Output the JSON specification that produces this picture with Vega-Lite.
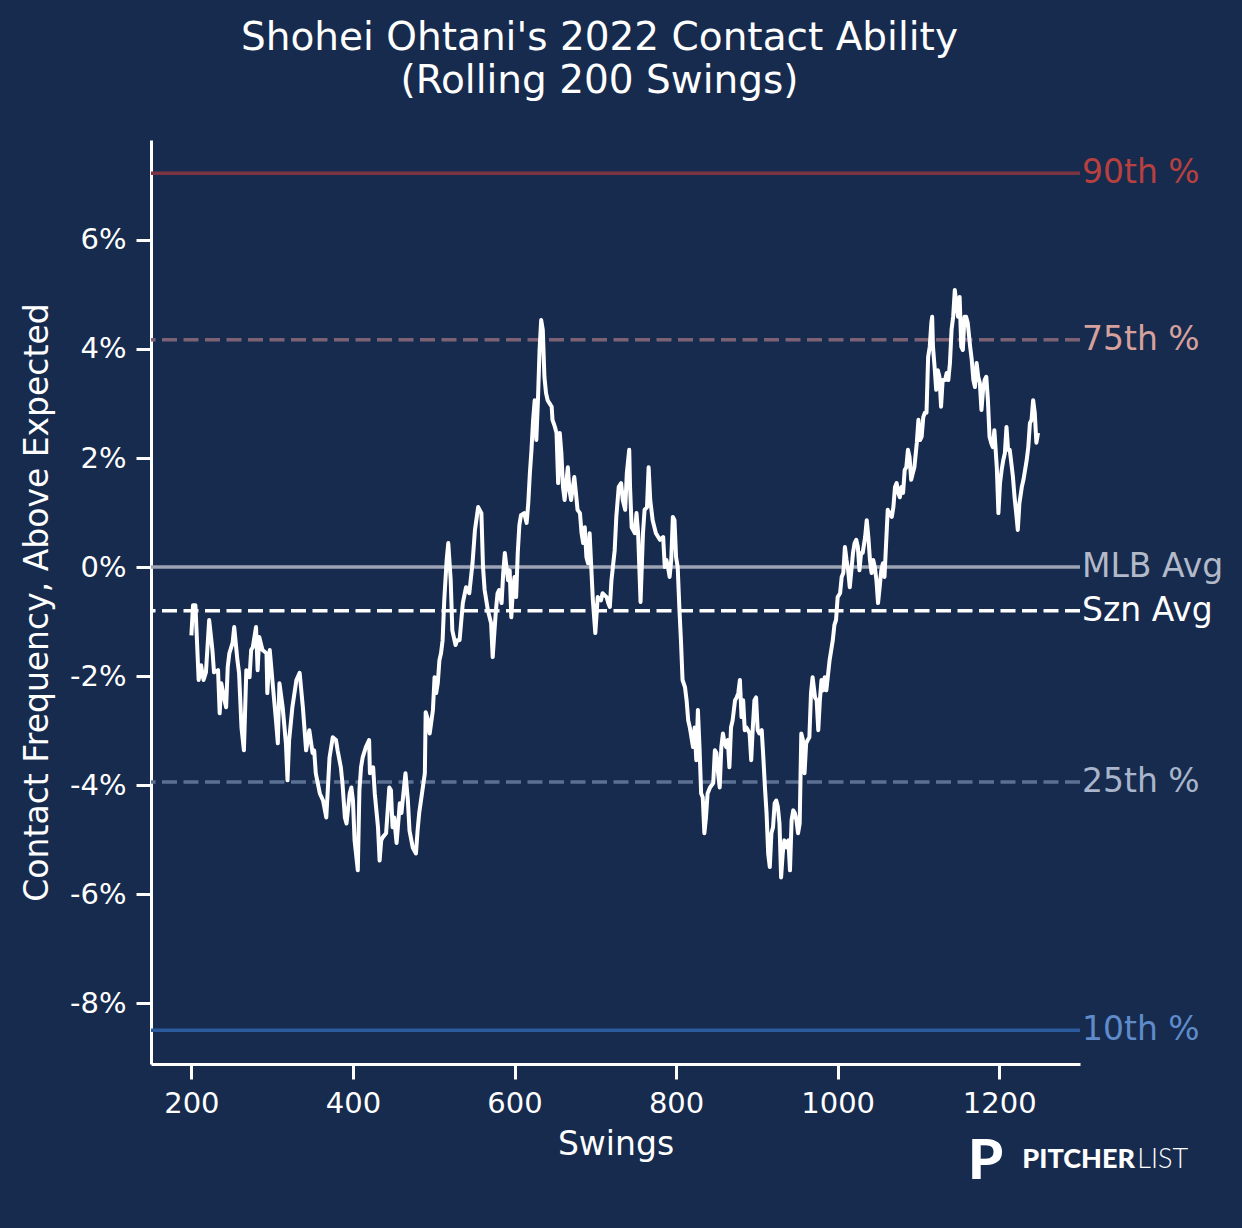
{
  "$schema": "https://vega.github.io/schema/vega-lite/v6.json",
  "width": 929,
  "height": 924,
  "autosize": {"type": "none"},
  "padding": {"left": 151, "top": 140, "right": 162, "bottom": 164},
  "background": "#172b4e",
  "title": {
    "text": ["Shohei Ohtani's 2022 Contact Ability", "(Rolling 200 Swings)"],
    "color": "#ffffff",
    "fontSize": 39,
    "fontWeight": "normal",
    "lineHeight": 43,
    "anchor": "middle",
    "baseline": "bottom",
    "offset": 0,
    "dx": -16
  },
  "datasets": {
    "refs": [
      {"ref": "90th %", "v": 7.22},
      {"ref": "75th %", "v": 4.17},
      {"ref": "MLB Avg", "v": 0},
      {"ref": "Szn Avg", "v": -0.8},
      {"ref": "25th %", "v": -3.94},
      {"ref": "10th %", "v": -8.49}
    ],
    "rolling": [
      {"swing": 200, "val": -1.25}, {"swing": 202, "val": -0.70}, {"swing": 205, "val": -0.70}, {"swing": 209, "val": -2.07},
      {"swing": 212, "val": -1.80}, {"swing": 215, "val": -2.07}, {"swing": 218, "val": -1.93}, {"swing": 222, "val": -0.97},
      {"swing": 226, "val": -1.52}, {"swing": 228, "val": -1.93}, {"swing": 233, "val": -1.89}, {"swing": 235, "val": -2.68},
      {"swing": 237, "val": -2.13}, {"swing": 241, "val": -2.44}, {"swing": 243, "val": -2.57}, {"swing": 245, "val": -1.83},
      {"swing": 247, "val": -1.58}, {"swing": 251, "val": -1.39}, {"swing": 253, "val": -1.10}, {"swing": 257, "val": -1.71},
      {"swing": 259, "val": -1.94}, {"swing": 262, "val": -2.94}, {"swing": 265, "val": -3.36}, {"swing": 268, "val": -1.89},
      {"swing": 272, "val": -2.02}, {"swing": 274, "val": -1.52}, {"swing": 276, "val": -1.47}, {"swing": 280, "val": -1.10},
      {"swing": 282, "val": -1.89}, {"swing": 284, "val": -1.28}, {"swing": 288, "val": -1.52}, {"swing": 293, "val": -1.58},
      {"swing": 294, "val": -2.31}, {"swing": 297, "val": -1.52}, {"swing": 301, "val": -2.20}, {"swing": 305, "val": -2.86},
      {"swing": 307, "val": -3.23}, {"swing": 309, "val": -2.13}, {"swing": 313, "val": -2.57}, {"swing": 317, "val": -3.23},
      {"swing": 319, "val": -3.91}, {"swing": 321, "val": -3.17}, {"swing": 325, "val": -2.57}, {"swing": 330, "val": -2.07},
      {"swing": 334, "val": -1.94}, {"swing": 338, "val": -2.57}, {"swing": 342, "val": -3.36}, {"swing": 346, "val": -2.99},
      {"swing": 350, "val": -3.41}, {"swing": 352, "val": -3.36}, {"swing": 354, "val": -3.78}, {"swing": 359, "val": -4.15},
      {"swing": 363, "val": -4.28}, {"swing": 367, "val": -4.59}, {"swing": 371, "val": -3.49}, {"swing": 375, "val": -3.12},
      {"swing": 379, "val": -3.17}, {"swing": 381, "val": -3.36}, {"swing": 385, "val": -3.67}, {"swing": 387, "val": -3.96},
      {"swing": 390, "val": -4.59}, {"swing": 392, "val": -4.70}, {"swing": 396, "val": -4.15}, {"swing": 398, "val": -4.04},
      {"swing": 400, "val": -4.28}, {"swing": 402, "val": -5.01}, {"swing": 406, "val": -5.56}, {"swing": 408, "val": -4.09},
      {"swing": 410, "val": -3.67}, {"swing": 412, "val": -3.49}, {"swing": 416, "val": -3.30}, {"swing": 420, "val": -3.17},
      {"swing": 421, "val": -3.78}, {"swing": 425, "val": -3.67}, {"swing": 427, "val": -4.15}, {"swing": 431, "val": -4.77},
      {"swing": 433, "val": -5.38}, {"swing": 435, "val": -5.01}, {"swing": 437, "val": -4.95}, {"swing": 441, "val": -4.88},
      {"swing": 445, "val": -4.04}, {"swing": 447, "val": -4.09}, {"swing": 449, "val": -4.77}, {"swing": 451, "val": -4.59},
      {"swing": 454, "val": -5.06}, {"swing": 458, "val": -4.33}, {"swing": 460, "val": -4.51}, {"swing": 462, "val": -4.22},
      {"swing": 465, "val": -3.78}, {"swing": 468, "val": -4.28}, {"swing": 470, "val": -4.83}, {"swing": 474, "val": -5.14},
      {"swing": 478, "val": -5.25}, {"swing": 480, "val": -4.83}, {"swing": 482, "val": -4.51}, {"swing": 486, "val": -4.09},
      {"swing": 489, "val": -3.78}, {"swing": 490, "val": -2.66}, {"swing": 493, "val": -2.81}, {"swing": 495, "val": -3.05},
      {"swing": 499, "val": -2.62}, {"swing": 501, "val": -2.02}, {"swing": 503, "val": -2.31}, {"swing": 505, "val": -2.13},
      {"swing": 507, "val": -1.71}, {"swing": 509, "val": -1.58}, {"swing": 511, "val": -1.34}, {"swing": 513, "val": -0.61},
      {"swing": 516, "val": 0.13}, {"swing": 518, "val": 0.44}, {"swing": 521, "val": -0.24}, {"swing": 523, "val": -1.16},
      {"swing": 527, "val": -1.43}, {"swing": 529, "val": -1.34}, {"swing": 532, "val": -1.34}, {"swing": 536, "val": -0.66},
      {"swing": 540, "val": -0.37}, {"swing": 544, "val": -0.48}, {"swing": 548, "val": 0.07}, {"swing": 551, "val": 0.68},
      {"swing": 555, "val": 1.10}, {"swing": 559, "val": 0.99}, {"swing": 561, "val": 0.00}, {"swing": 563, "val": -0.42},
      {"swing": 567, "val": -0.79}, {"swing": 571, "val": -1.03}, {"swing": 573, "val": -1.65}, {"swing": 575, "val": -1.21},
      {"swing": 577, "val": -0.79}, {"swing": 579, "val": -0.48}, {"swing": 581, "val": -0.42}, {"swing": 584, "val": -0.66},
      {"swing": 586, "val": -0.11}, {"swing": 588, "val": 0.26}, {"swing": 590, "val": 0.00}, {"swing": 592, "val": -0.24},
      {"swing": 594, "val": -0.06}, {"swing": 596, "val": -0.92}, {"swing": 598, "val": -0.42}, {"swing": 600, "val": -0.18},
      {"swing": 602, "val": -0.55}, {"swing": 604, "val": 0.26}, {"swing": 606, "val": 0.77}, {"swing": 608, "val": 0.95},
      {"swing": 612, "val": 0.99}, {"swing": 615, "val": 0.81}, {"swing": 617, "val": 1.17}, {"swing": 619, "val": 1.72},
      {"swing": 621, "val": 2.15}, {"swing": 623, "val": 2.70}, {"swing": 625, "val": 3.06}, {"swing": 627, "val": 2.33},
      {"swing": 629, "val": 3.06}, {"swing": 631, "val": 3.98}, {"swing": 633, "val": 4.53}, {"swing": 635, "val": 4.35},
      {"swing": 637, "val": 3.49}, {"swing": 639, "val": 3.19}, {"swing": 641, "val": 3.06}, {"swing": 643, "val": 3.01},
      {"swing": 646, "val": 2.94}, {"swing": 647, "val": 2.70}, {"swing": 650, "val": 2.57}, {"swing": 652, "val": 2.46},
      {"swing": 654, "val": 1.54}, {"swing": 656, "val": 2.46}, {"swing": 658, "val": 2.09}, {"swing": 660, "val": 1.47},
      {"swing": 662, "val": 1.23}, {"swing": 666, "val": 1.83}, {"swing": 668, "val": 1.41}, {"swing": 670, "val": 1.23},
      {"swing": 674, "val": 1.65}, {"swing": 676, "val": 1.36}, {"swing": 678, "val": 1.05}, {"swing": 681, "val": 0.99},
      {"swing": 683, "val": 0.62}, {"swing": 685, "val": 0.44}, {"swing": 687, "val": 0.73}, {"swing": 689, "val": 0.18},
      {"swing": 691, "val": 0.07}, {"swing": 693, "val": 0.62}, {"swing": 695, "val": 0.00}, {"swing": 697, "val": -0.61},
      {"swing": 700, "val": -1.21}, {"swing": 703, "val": -0.55}, {"swing": 707, "val": -0.61}, {"swing": 709, "val": -0.48},
      {"swing": 714, "val": -0.55}, {"swing": 716, "val": -0.66}, {"swing": 718, "val": -0.73}, {"swing": 720, "val": -0.24},
      {"swing": 724, "val": 0.31}, {"swing": 726, "val": 0.92}, {"swing": 729, "val": 1.47}, {"swing": 732, "val": 1.54},
      {"swing": 734, "val": 1.23}, {"swing": 737, "val": 1.05}, {"swing": 739, "val": 1.72}, {"swing": 742, "val": 2.15},
      {"swing": 743, "val": 1.47}, {"swing": 745, "val": 0.73}, {"swing": 749, "val": 0.62}, {"swing": 751, "val": 0.99},
      {"swing": 753, "val": 0.62}, {"swing": 756, "val": -0.64}, {"swing": 759, "val": 0.62}, {"swing": 761, "val": 1.05},
      {"swing": 764, "val": 1.10}, {"swing": 766, "val": 1.83}, {"swing": 768, "val": 1.23}, {"swing": 771, "val": 0.86},
      {"swing": 775, "val": 0.62}, {"swing": 780, "val": 0.50}, {"swing": 784, "val": 0.55}, {"swing": 786, "val": 0.00},
      {"swing": 788, "val": 0.13}, {"swing": 790, "val": 0.00}, {"swing": 792, "val": -0.18}, {"swing": 794, "val": 0.13},
      {"swing": 796, "val": 0.92}, {"swing": 798, "val": 0.86}, {"swing": 800, "val": 0.18}, {"swing": 802, "val": 0.00},
      {"swing": 804, "val": -0.73}, {"swing": 806, "val": -1.34}, {"swing": 808, "val": -2.07}, {"swing": 811, "val": -2.20},
      {"swing": 813, "val": -2.44}, {"swing": 815, "val": -2.81}, {"swing": 817, "val": -2.94}, {"swing": 821, "val": -3.30},
      {"swing": 823, "val": -2.94}, {"swing": 825, "val": -3.54}, {"swing": 827, "val": -2.62}, {"swing": 829, "val": -3.30},
      {"swing": 831, "val": -4.15}, {"swing": 833, "val": -4.22}, {"swing": 835, "val": -4.88}, {"swing": 837, "val": -4.59},
      {"swing": 839, "val": -4.15}, {"swing": 842, "val": -4.04}, {"swing": 846, "val": -3.96}, {"swing": 848, "val": -3.36},
      {"swing": 850, "val": -3.41}, {"swing": 852, "val": -3.78}, {"swing": 854, "val": -4.04}, {"swing": 856, "val": -3.30},
      {"swing": 858, "val": -3.05}, {"swing": 860, "val": -3.23}, {"swing": 862, "val": -3.30}, {"swing": 864, "val": -3.17},
      {"swing": 866, "val": -3.67}, {"swing": 868, "val": -2.94}, {"swing": 870, "val": -2.81}, {"swing": 873, "val": -2.44},
      {"swing": 875, "val": -2.39}, {"swing": 877, "val": -2.31}, {"swing": 879, "val": -2.07}, {"swing": 881, "val": -2.75},
      {"swing": 883, "val": -2.44}, {"swing": 885, "val": -2.99}, {"swing": 887, "val": -2.94}, {"swing": 889, "val": -2.99},
      {"swing": 891, "val": -3.05}, {"swing": 893, "val": -3.54}, {"swing": 895, "val": -2.94}, {"swing": 897, "val": -2.44},
      {"swing": 899, "val": -2.39}, {"swing": 901, "val": -2.99}, {"swing": 903, "val": -3.05}, {"swing": 906, "val": -2.99},
      {"swing": 908, "val": -3.49}, {"swing": 910, "val": -4.04}, {"swing": 912, "val": -4.51}, {"swing": 914, "val": -5.25},
      {"swing": 916, "val": -5.50}, {"swing": 918, "val": -4.88}, {"swing": 920, "val": -4.77}, {"swing": 922, "val": -4.33},
      {"swing": 924, "val": -4.28}, {"swing": 926, "val": -4.40}, {"swing": 928, "val": -4.70}, {"swing": 930, "val": -5.69},
      {"swing": 932, "val": -5.25}, {"swing": 934, "val": -5.01}, {"swing": 937, "val": -5.14}, {"swing": 939, "val": -5.01},
      {"swing": 941, "val": -5.56}, {"swing": 943, "val": -4.64}, {"swing": 945, "val": -4.46}, {"swing": 947, "val": -4.51},
      {"swing": 949, "val": -4.64}, {"swing": 951, "val": -4.88}, {"swing": 953, "val": -4.70}, {"swing": 955, "val": -3.05},
      {"swing": 957, "val": -3.17}, {"swing": 959, "val": -3.78}, {"swing": 961, "val": -3.23}, {"swing": 963, "val": -3.17},
      {"swing": 965, "val": -3.12}, {"swing": 967, "val": -2.31}, {"swing": 969, "val": -2.02}, {"swing": 972, "val": -2.39},
      {"swing": 974, "val": -2.44}, {"swing": 976, "val": -2.99}, {"swing": 978, "val": -2.44}, {"swing": 980, "val": -2.07},
      {"swing": 982, "val": -2.26}, {"swing": 984, "val": -2.02}, {"swing": 986, "val": -2.26}, {"swing": 990, "val": -1.71},
      {"swing": 994, "val": -1.34}, {"swing": 996, "val": -1.06}, {"swing": 998, "val": -0.97}, {"swing": 1000, "val": -0.55},
      {"swing": 1003, "val": -0.48}, {"swing": 1005, "val": -0.18}, {"swing": 1007, "val": -0.11}, {"swing": 1009, "val": 0.37},
      {"swing": 1011, "val": 0.13}, {"swing": 1013, "val": -0.06}, {"swing": 1015, "val": -0.37}, {"swing": 1017, "val": -0.06},
      {"swing": 1019, "val": 0.26}, {"swing": 1021, "val": 0.44}, {"swing": 1023, "val": 0.50}, {"swing": 1025, "val": 0.37},
      {"swing": 1027, "val": -0.06}, {"swing": 1029, "val": 0.26}, {"swing": 1031, "val": 0.26}, {"swing": 1034, "val": 0.55},
      {"swing": 1036, "val": 0.86}, {"swing": 1038, "val": 0.55}, {"swing": 1040, "val": 0.13}, {"swing": 1042, "val": -0.11},
      {"swing": 1044, "val": 0.13}, {"swing": 1046, "val": 0.00}, {"swing": 1048, "val": -0.24}, {"swing": 1050, "val": -0.66},
      {"swing": 1052, "val": -0.37}, {"swing": 1054, "val": -0.06}, {"swing": 1056, "val": 0.07}, {"swing": 1058, "val": -0.18},
      {"swing": 1060, "val": 0.44}, {"swing": 1062, "val": 1.05}, {"swing": 1064, "val": 0.99}, {"swing": 1067, "val": 0.92},
      {"swing": 1069, "val": 1.10}, {"swing": 1071, "val": 1.47}, {"swing": 1073, "val": 1.54}, {"swing": 1075, "val": 1.36},
      {"swing": 1077, "val": 1.28}, {"swing": 1079, "val": 1.47}, {"swing": 1081, "val": 1.36}, {"swing": 1083, "val": 1.78},
      {"swing": 1085, "val": 1.83}, {"swing": 1087, "val": 2.15}, {"swing": 1089, "val": 2.02}, {"swing": 1091, "val": 1.60},
      {"swing": 1093, "val": 1.72}, {"swing": 1095, "val": 1.83}, {"swing": 1098, "val": 2.28}, {"swing": 1100, "val": 2.70},
      {"swing": 1102, "val": 2.33}, {"swing": 1104, "val": 2.39}, {"swing": 1106, "val": 2.75}, {"swing": 1108, "val": 2.83},
      {"swing": 1110, "val": 2.83}, {"swing": 1112, "val": 3.85}, {"swing": 1114, "val": 4.04}, {"swing": 1116, "val": 4.48},
      {"swing": 1117, "val": 4.59}, {"swing": 1118, "val": 4.04}, {"swing": 1120, "val": 3.67}, {"swing": 1122, "val": 3.25},
      {"swing": 1124, "val": 3.61}, {"swing": 1126, "val": 3.49}, {"swing": 1128, "val": 2.94}, {"swing": 1130, "val": 3.43},
      {"swing": 1133, "val": 3.43}, {"swing": 1135, "val": 3.56}, {"swing": 1137, "val": 3.43}, {"swing": 1139, "val": 3.74},
      {"swing": 1141, "val": 4.35}, {"swing": 1143, "val": 4.59}, {"swing": 1145, "val": 5.08}, {"swing": 1147, "val": 4.84},
      {"swing": 1149, "val": 4.59}, {"swing": 1151, "val": 4.95}, {"swing": 1153, "val": 4.04}, {"swing": 1155, "val": 3.98},
      {"swing": 1157, "val": 4.59}, {"swing": 1159, "val": 4.59}, {"swing": 1161, "val": 4.48}, {"swing": 1164, "val": 4.04},
      {"swing": 1166, "val": 3.80}, {"swing": 1168, "val": 3.43}, {"swing": 1170, "val": 3.30}, {"swing": 1172, "val": 3.74},
      {"swing": 1174, "val": 3.49}, {"swing": 1176, "val": 3.38}, {"swing": 1178, "val": 2.88}, {"swing": 1180, "val": 3.25},
      {"swing": 1182, "val": 3.43}, {"swing": 1184, "val": 3.49}, {"swing": 1186, "val": 3.06}, {"swing": 1188, "val": 2.39},
      {"swing": 1190, "val": 2.28}, {"swing": 1192, "val": 2.20}, {"swing": 1194, "val": 2.51}, {"swing": 1197, "val": 1.83},
      {"swing": 1199, "val": 0.99}, {"swing": 1201, "val": 1.54}, {"swing": 1203, "val": 1.78}, {"swing": 1205, "val": 1.96},
      {"swing": 1207, "val": 2.09}, {"swing": 1209, "val": 2.57}, {"swing": 1211, "val": 2.15}, {"swing": 1213, "val": 2.15},
      {"swing": 1215, "val": 1.91}, {"swing": 1217, "val": 1.65}, {"swing": 1219, "val": 1.28}, {"swing": 1221, "val": 0.99},
      {"swing": 1223, "val": 0.68}, {"swing": 1225, "val": 1.17}, {"swing": 1228, "val": 1.47}, {"swing": 1230, "val": 1.60},
      {"swing": 1232, "val": 1.78}, {"swing": 1234, "val": 1.96}, {"swing": 1236, "val": 2.20}, {"swing": 1238, "val": 2.64},
      {"swing": 1240, "val": 2.70}, {"swing": 1242, "val": 3.06}, {"swing": 1244, "val": 2.83}, {"swing": 1246, "val": 2.28},
      {"swing": 1248, "val": 2.46}
    ]
  },
  "layer": [
    {
      "data": {"name": "refs"},
      "mark": {"type": "rule", "strokeWidth": 3.5},
      "encoding": {
        "y": {"field": "v", "type": "quantitative"},
        "color": {
          "field": "ref", "type": "nominal", "legend": null,
          "scale": {
            "domain": ["90th %", "75th %", "MLB Avg", "Szn Avg", "25th %", "10th %"],
            "range": ["#7c3443", "#7c6274", "#9ca3b3", "#ffffff", "#5b7194", "#2b5a9e"]
          }
        },
        "strokeDash": {
          "field": "ref", "type": "nominal", "legend": null,
          "scale": {
            "domain": ["90th %", "75th %", "MLB Avg", "Szn Avg", "25th %", "10th %"],
            "range": [[1, 0], [15, 6.5], [1, 0], [15, 6.5], [15, 6.5], [1, 0]]
          }
        }
      }
    },
    {
      "data": {"name": "refs"},
      "mark": {"type": "text", "align": "left", "baseline": "middle", "dx": 2, "fontSize": 33},
      "encoding": {
        "x": {"datum": 1300, "type": "quantitative"},
        "y": {"field": "v", "type": "quantitative"},
        "text": {"field": "ref"},
        "color": {
          "field": "ref", "type": "nominal", "legend": null,
          "scale": {
            "domain": ["90th %", "75th %", "MLB Avg", "Szn Avg", "25th %", "10th %"],
            "range": ["#b8403f", "#d6a19d", "#b2b9c8", "#ffffff", "#a8b5cb", "#5f8bcb"]
          }
        }
      }
    },
    {
      "data": {"name": "rolling"},
      "mark": {"type": "line", "color": "#ffffff", "strokeWidth": 4, "strokeJoin": "round"},
      "encoding": {
        "x": {
          "field": "swing", "type": "quantitative",
          "scale": {"domain": [150, 1300], "nice": false, "zero": false},
          "axis": {"values": [200, 400, 600, 800, 1000, 1200], "format": "d", "title": "Swings", "titlePadding": 10}
        },
        "y": {
          "field": "val", "type": "quantitative",
          "scale": {"domain": [-9.11, 7.83], "nice": false, "zero": false},
          "axis": {
            "values": [-8, -6, -4, -2, 0, 2, 4, 6],
            "labelExpr": "datum.value + '%'",
            "title": "Contact Frequency, Above Expected",
            "titlePadding": 15
          }
        }
      }
    },
    {
      "data": {"values": [{"t": "P"}]},
      "mark": {"type": "text", "font": "Lato", "fontWeight": 900, "fontSize": 56, "align": "center", "baseline": "alphabetic", "color": "#ffffff"},
      "encoding": {
        "x": {"datum": 1183, "type": "quantitative"},
        "y": {"datum": -11.21, "type": "quantitative"},
        "text": {"field": "t"}
      }
    },
    {
      "data": {"values": [{"t": "PITCHER"}]},
      "mark": {"type": "text", "font": "Lato", "fontWeight": 900, "fontSize": 27, "align": "right", "baseline": "alphabetic", "color": "#ffffff"},
      "encoding": {
        "x": {"datum": 1368, "type": "quantitative"},
        "y": {"datum": -11.02, "type": "quantitative"},
        "text": {"field": "t"}
      }
    },
    {
      "data": {"values": [{"t": "LIST"}]},
      "mark": {"type": "text", "font": "Lato", "fontWeight": 300, "fontSize": 27, "align": "left", "baseline": "alphabetic", "color": "#ffffff"},
      "encoding": {
        "x": {"datum": 1371, "type": "quantitative"},
        "y": {"datum": -11.02, "type": "quantitative"},
        "text": {"field": "t"}
      }
    }
  ],
  "resolve": {"scale": {"color": "independent"}},
  "config": {
    "font": "DejaVu Sans",
    "view": {"stroke": null},
    "axis": {
      "grid": false,
      "domainColor": "#ffffff",
      "domainWidth": 3,
      "tickColor": "#ffffff",
      "tickWidth": 3,
      "tickSize": 15,
      "labelColor": "#ffffff",
      "labelFontSize": 29,
      "labelPadding": 10,
      "labelFlush": false,
      "labelOverlap": false,
      "titleColor": "#ffffff",
      "titleFontSize": 33,
      "titleFontWeight": "normal"
    }
  }
}
